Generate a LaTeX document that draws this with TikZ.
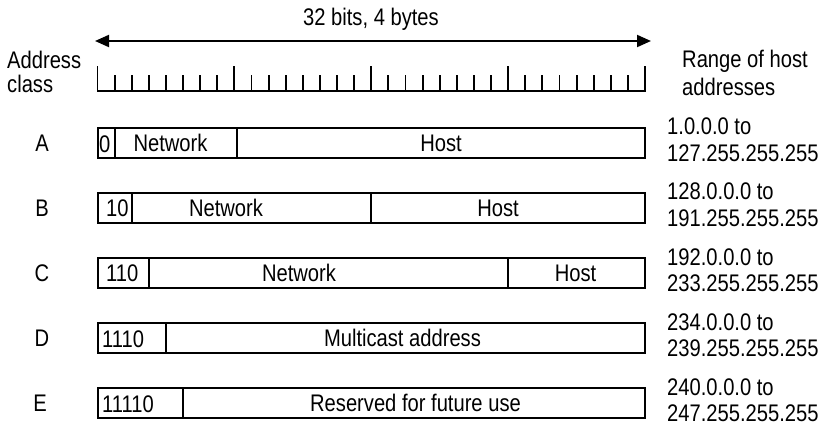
\documentclass[tikz,border=0pt]{standalone}
\usepackage{fontspec}
\setmainfont{Liberation Sans}[FakeStretch=0.84]
\usetikzlibrary{arrows.meta}
\tikzset{
  txt/.style={inner sep=0pt, anchor=base},
  txtw/.style={inner sep=0pt, anchor=base west},
  rng/.style={inner sep=0pt, anchor=base west},
  cell/.style={line width=2pt},
  tick/.style={line width=1.9pt},
}
\begin{document}
\begin{tikzpicture}[x=1pt,y=-1pt,font=\fontsize{24}{28}\selectfont]
\useasboundingbox (0,0) rectangle (822,429);
% header
\node[txt] (title) at (371,25) {32 bits, 4 bytes};
\coordinate (al) at (95,41);
\coordinate (ar) at (651,41);
\draw[line width=2pt,{Triangle[length=14pt,width=12pt]}-{Triangle[length=14pt,width=12pt]}] (al) -- (ar);
\node[txtw] (addr1) at (7,68) {Address};
\node[txtw] (addr2) at (7,92) {class};
\node[txtw] (rng1) at (682,67) {Range of host};
\node[txtw] (rng2) at (682,95) {addresses};
% ruler
\coordinate (r0) at (97.5,91);
\coordinate (r32) at (645,91);
\draw[tick] (r0) -- (r32);
\foreach \i in {0,...,32}{
  \pgfmathsetmacro{\xx}{97.5+\i*17.11}
  \pgfmathtruncatemacro{\big}{mod(\i,8)==0 ? 1 : 0}
  \ifnum\big=1
    \draw[tick] (\xx,91.9) -- (\xx,66);
  \else
    \draw[tick] (\xx,91.9) -- (\xx,75);
  \fi
}
\def\bx#1{97.5+#1*17.11}
% Row A  (centre 142.8)
\draw[cell] (97.5,127.6) rectangle (645,158);
\draw[cell] ({\bx{1}},127.6) -- ({\bx{1}},158);
\draw[cell] (237,127.6) -- (237,158);
\node[txt] (labA) at (42,151) {A};
\node[txtw] (a0) at (99,152) {0};
\node[txt] (anet) at (170.5,151) {Network};
\node[txt] (ahost) at (441,151) {Host};
\node[rng] (ra1) at (667,134.8) {1.0.0.0 to};
\node[rng] (ra2) at (667,161.3) {127.255.255.255};
% Row B  (centre 207.9)
\draw[cell] (97.5,192.7) rectangle (645,223.1);
\draw[cell] ({\bx{2}},192.7) -- ({\bx{2}},223.1);
\draw[cell] ({\bx{16}},192.7) -- ({\bx{16}},223.1);
\node[txt] (labB) at (42,216.1) {B};
\node[txtw] (b0) at (106,216.8) {10};
\node[txt] (bnet) at (226,216.1) {Network};
\node[txt] (bhost) at (498,216.1) {Host};
\node[rng] (rb1) at (667,199.9) {128.0.0.0 to};
\node[rng] (rb2) at (667,226.4) {191.255.255.255};
% Row C  (centre 273.0)
\draw[cell] (97.5,257.8) rectangle (645,288.2);
\draw[cell] ({\bx{3}},257.8) -- ({\bx{3}},288.2);
\draw[cell] ({\bx{24}},257.8) -- ({\bx{24}},288.2);
\node[txt] (labC) at (42,281.2) {C};
\node[txtw] (c0) at (106,281.9) {110};
\node[txt] (cnet) at (299,281.2) {Network};
\node[txt] (chost) at (575.5,281.2) {Host};
\node[rng] (rc1) at (667,265) {192.0.0.0 to};
\node[rng] (rc2) at (667,291.5) {233.255.255.255};
% Row D  (centre 338.1)
\draw[cell] (97.5,322.9) rectangle (645,353.3);
\draw[cell] ({\bx{4}},322.9) -- ({\bx{4}},353.3);
\node[txt] (labD) at (42,346.3) {D};
\node[txtw] (d0) at (102,347) {1110};
\node[txt] (dmc) at (402.5,346.3) {Multicast address};
\node[rng] (rd1) at (667,330.1) {234.0.0.0 to};
\node[rng] (rd2) at (667,356.6) {239.255.255.255};
% Row E  (centre 403.2)
\draw[cell] (97.5,388) rectangle (645,418.4);
\draw[cell] ({\bx{5}},388) -- ({\bx{5}},418.4);
\node[txt] (labE) at (40,411.4) {E};
\node[txtw] (e0) at (102,412.1) {11110};
\node[txt] (eres) at (415.5,411.4) {Reserved for future use};
\node[rng] (re1) at (667,395.2) {240.0.0.0 to};
\node[rng] (re2) at (667,421.7) {247.255.255.255};
\end{tikzpicture}
\end{document}
